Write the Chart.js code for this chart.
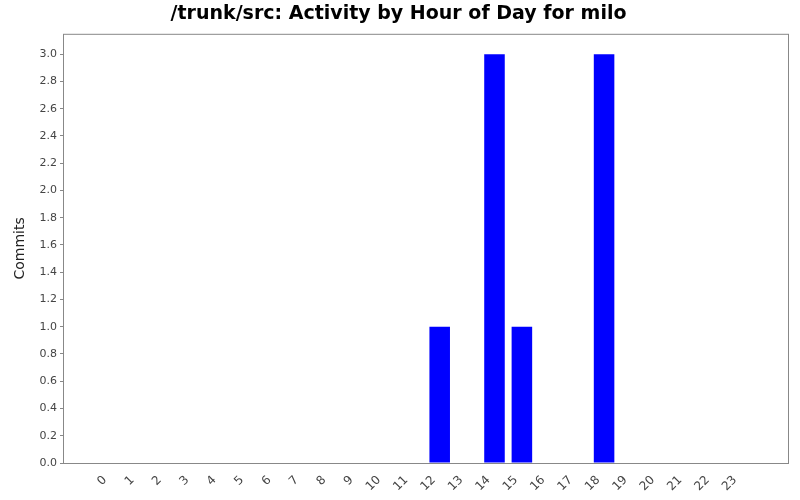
<!DOCTYPE html>
<html>
<head>
<meta charset="utf-8">
<script src="https://cdn.jsdelivr.net/npm/chart.js@4/dist/chart.umd.min.js"></script>
<style>
  html, body { margin: 0; padding: 0; background: #fff; }
  #wrap { width: 800px; height: 500px; }
</style>
</head>
<body>
<div id="wrap"><canvas id="c"></canvas></div>
<script>
const hours = ['0','1','2','3','4','5','6','7','8','9','10','11','12','13','14','15','16','17','18','19','20','21','22','23'];
const commits = [0,0,0,0,0,0,0,0,0,0,0,0,1,0,3,1,0,0,3,0,0,0,0,0];

// plot frame like the original
const frame = {
    id: 'frame',
    afterDraw(chart) {
        const a = chart.chartArea, ctx = chart.ctx;
        ctx.save();
        ctx.strokeStyle = '#888';
        ctx.lineWidth = 1;
        ctx.strokeRect(a.left + 0.5, a.top + 0.5, a.right - a.left - 1, a.bottom - a.top);
        ctx.restore();
    }
};

new Chart(document.getElementById('c'), {
    type: 'bar',
    data: {
        datasets: [{
            data: hours.map((h, i) => ({ x: i, y: commits[i] })),
            backgroundColor: '#0000ff',
            borderWidth: 0,
            barPercentage: 0.75,
            categoryPercentage: 1
        }]
    },
    plugins: [frame],
    options: {
        responsive: true,
        maintainAspectRatio: false,
        animation: false,
        layout: { padding: { left: 8, right: 11, top: 0, bottom: 0 } },
        plugins: {
            legend: { display: false },
            tooltip: { enabled: false },
            title: {
                display: true,
                text: '/trunk/src: Activity by Hour of Day for milo',
                color: '#000',
                font: { family: 'DejaVu Sans', size: 19, weight: 'bold' },
                padding: { top: 3, bottom: 8 }
            }
        },
        scales: {
            x: {
                type: 'linear',
                offset: false,
                min: -1.75,
                max: 24.75,
                grid: { display: false },
                border: { display: false },
                afterBuildTicks(scale) {
                    scale.ticks = hours.map((h, i) => ({ value: i }));
                },
                afterFit(scale) { scale.height = 37; },
                ticks: {
                    autoSkip: false,
                    maxRotation: 45,
                    minRotation: 45,
                    labelOffset: -6,
                    padding: 2,
                    color: '#444',
                    font: { family: 'DejaVu Sans', size: 12 },
                    callback: (v) => hours[v]
                }
            },
            y: {
                min: 0,
                max: 3.15,
                title: {
                    display: true,
                    text: 'Commits',
                    color: '#222',
                    font: { family: 'DejaVu Sans', size: 14 }
                },
                grid: { display: true, drawOnChartArea: false, drawTicks: true, tickLength: 3, color: '#888' },
                border: { display: false },
                afterBuildTicks(scale) {
                    const t = [];
                    for (let i = 0; i <= 15; i++) t.push({ value: i / 5 });
                    scale.ticks = t;
                },
                afterFit(scale) { scale.width = 55; },
                ticks: {
                    padding: 3,
                    color: '#444',
                    font: { family: 'DejaVu Sans', size: 11 },
                    callback: (v) => v.toFixed(1)
                }
            }
        }
    }
});
</script>
</body>
</html>
